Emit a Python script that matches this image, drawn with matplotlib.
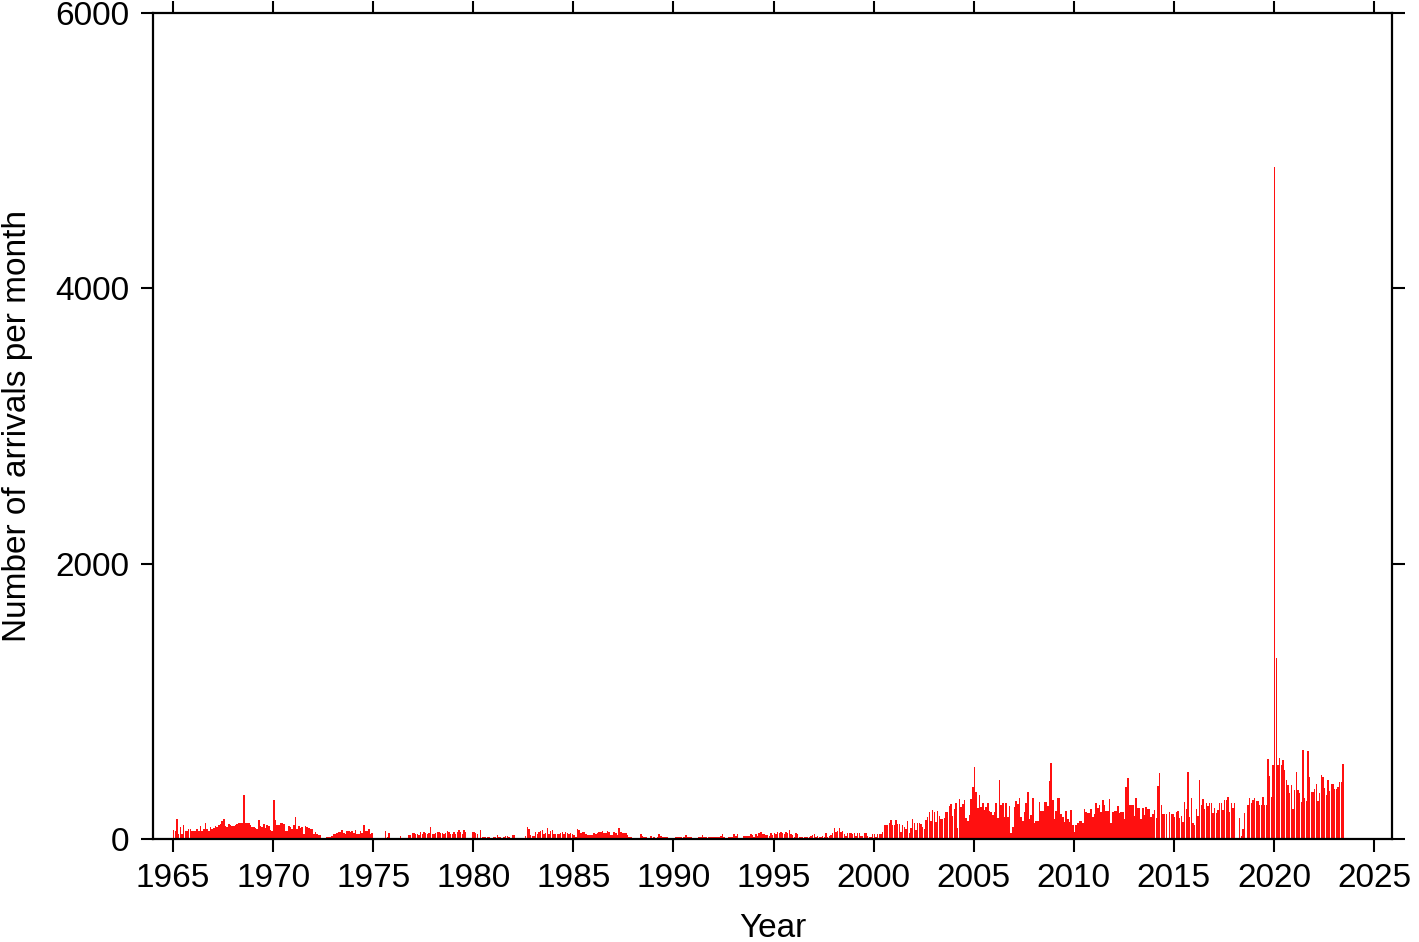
import numpy as np
import matplotlib
matplotlib.use("Agg")
import matplotlib.pyplot as plt

# monthly arrival counts, Jan 1965 .. Jun 2023
arrivals_1960s = [
    65, 55, 145, 40, 90, 35, 100, 60, 55, 70, 75, 55,      # 1965
    55, 60, 75, 55, 95, 60, 70, 120, 70, 55, 85, 75,       # 1966
    80, 95, 90, 100, 110, 130, 145, 95, 90, 110, 100, 95,  # 1967
    95, 100, 110, 115, 120, 115, 320, 120, 120, 115, 100, 90,  # 1968
    85, 80, 75, 135, 95, 85, 110, 80, 100, 95, 65, 60,     # 1969
]
arrivals_1970s = [
    283, 140, 105, 100, 115, 120, 110, 60, 55, 95, 90, 75,
    100, 160, 70, 95, 80, 85, 40, 95, 90, 80, 75, 75,
    35, 50, 40, 30, 28, 8, 5, 3, 12, 12, 12, 25,
    40, 35, 45, 50, 48, 65, 45, 40, 58, 58, 50, 55,
    45, 65, 35, 35, 55, 45, 100, 55, 60, 70, 33, 46,
    0, 0, 0, 0, 0, 0, 0, 58, 15, 45, 0, 0,
    0, 0, 0, 0, 25, 0, 0, 0, 0, 28, 30, 45,
    45, 34, 40, 30, 53, 35, 48, 45, 40, 42, 85, 35,
    40, 45, 48, 50, 45, 42, 40, 45, 60, 48, 35, 40,
    53, 40, 48, 65, 50, 40, 65, 52, 10, 0, 0, 50,
]
arrivals_1980s = [
    48, 45, 40, 10, 65, 17, 15, 17, 15, 12, 10, 10,
    17, 15, 30, 18, 15, 10, 12, 20, 25, 12, 10, 28,
    30, 8, 8, 8, 10, 8, 10, 25, 85, 70, 30, 20,
    20, 53, 40, 48, 60, 65, 40, 45, 77, 40, 60, 65,
    36, 40, 35, 36, 41, 48, 33, 53, 41, 40, 41, 34,
    29, 17, 70, 65, 41, 48, 48, 36, 29, 32, 32, 30,
    41, 36, 41, 48, 53, 55, 45, 45, 55, 53, 30, 28,
    48, 41, 30, 80, 53, 41, 41, 45, 30, 17, 17, 8,
    5, 8, 0, 8, 40, 20, 17, 12, 10, 8, 24, 5,
    12, 10, 12, 40, 22, 17, 15, 12, 12, 10, 10, 8,
]
arrivals_1990s = [
    8, 17, 15, 17, 12, 10, 12, 28, 15, 12, 15, 8,
    8, 8, 10, 12, 12, 28, 17, 12, 10, 17, 15, 14,
    12, 15, 12, 15, 20, 40, 17, 8, 8, 17, 15, 12,
    34, 24, 34, 8, 8, 8, 25, 24, 25, 24, 34, 30,
    14, 34, 24, 41, 48, 36, 36, 29, 29, 24, 41, 29,
    46, 34, 48, 41, 53, 41, 36, 53, 41, 65, 34, 29,
    17, 46, 34, 12, 12, 12, 17, 17, 17, 14, 20, 29,
    34, 17, 20, 12, 12, 20, 15, 41, 17, 20, 29, 41,
    82, 53, 60, 82, 53, 58, 34, 24, 46, 41, 41, 38,
    41, 24, 41, 46, 20, 20, 41, 41, 20, 12, 12, 34,
]
arrivals_2000s = [
    34, 12, 36, 36, 36, 53, 100, 105, 100, 114, 138, 105,
    100, 138, 108, 108, 50, 100, 85, 70, 130, 45, 80, 143,
    120, 65, 120, 120, 110, 90, 70, 138, 162, 193, 130, 210,
    198, 126, 206, 167, 145, 145, 150, 198, 198, 242, 252, 167,
    218, 259, 77, 290, 230, 252, 283, 155, 131, 174, 288, 380,
    520, 344, 227, 320, 235, 259, 210, 235, 259, 203, 198, 174,
    198, 264, 150, 428, 247, 259, 162, 259, 162, 242, 41, 85,
    235, 276, 254, 300, 162, 131, 198, 259, 339, 145, 174, 295,
    114, 131, 131, 271, 203, 203, 266, 266, 240, 424, 554, 283,
    145, 206, 295, 295, 181, 162, 126, 203, 143, 126, 210, 102,
]
arrivals_2010s = [
    53, 102, 114, 131, 131, 119, 215, 198, 186, 186, 215, 162,
    181, 259, 222, 247, 198, 283, 247, 203, 203, 288, 114, 193,
    203, 203, 242, 186, 198, 198, 145, 380, 445, 247, 247, 247,
    169, 300, 227, 227, 147, 222, 174, 235, 218, 218, 157, 179,
    210, 155, 385, 477, 247, 181, 181, 181, 0, 193, 181, 181,
    162, 198, 206, 150, 169, 126, 271, 218, 484, 157, 295, 114,
    102, 218, 167, 428, 247, 290, 218, 259, 242, 264, 264, 191,
    222, 191, 210, 259, 259, 210, 283, 283, 303, 198, 264, 222,
    264, 0, 0, 150, 25, 73, 186, 0, 247, 295, 264, 283,
    300, 276, 276, 247, 247, 307, 247, 247, 580, 457, 307, 537,
]
arrivals_2020s = [
    4880, 1315, 537, 586, 537, 573, 501, 428, 392, 332, 392, 215,
    356, 489, 356, 332, 271, 646, 300, 276, 639, 448, 344, 339,
    360, 397, 276, 332, 465, 448, 368, 320, 428, 351, 400, 397,
    360, 360, 380, 412, 412, 545,
]

year_ticks = list(range(1965, 2030, 5))
count_ticks = [0, 2000, 4000, 6000]

counts = np.array(arrivals_1960s + arrivals_1970s + arrivals_1980s
                  + arrivals_1990s + arrivals_2000s + arrivals_2010s
                  + arrivals_2020s)
months = 1965 + np.arange(len(counts)) / 12.0

plt.rcParams['font.family'] = ['Liberation Sans', 'DejaVu Sans']

fig = plt.figure(figsize=(14.19, 9.42), dpi=100)
ax = fig.add_axes([0.1078, 0.1093, 0.8732, 0.8769])

ax.bar(months, counts, width=0.9 / 12, align='edge', color='#ff1010', linewidth=0)

ax.set_xlim(1964, 2025.9)
ax.set_ylim(0, 6000)
ax.set_xticks(year_ticks)
ax.set_yticks(count_ticks)
ax.tick_params(direction='out', length=9, width=1.5, labelsize=24,
               top=True, right=True, pad=8)
for s in ax.spines.values():
    s.set_linewidth(1.6)

ax.set_xlabel("Year", fontsize=24, labelpad=14)
ax.set_ylabel("Number of arrivals per month", fontsize=24, labelpad=16)

fig.savefig("out.png", dpi=100)
